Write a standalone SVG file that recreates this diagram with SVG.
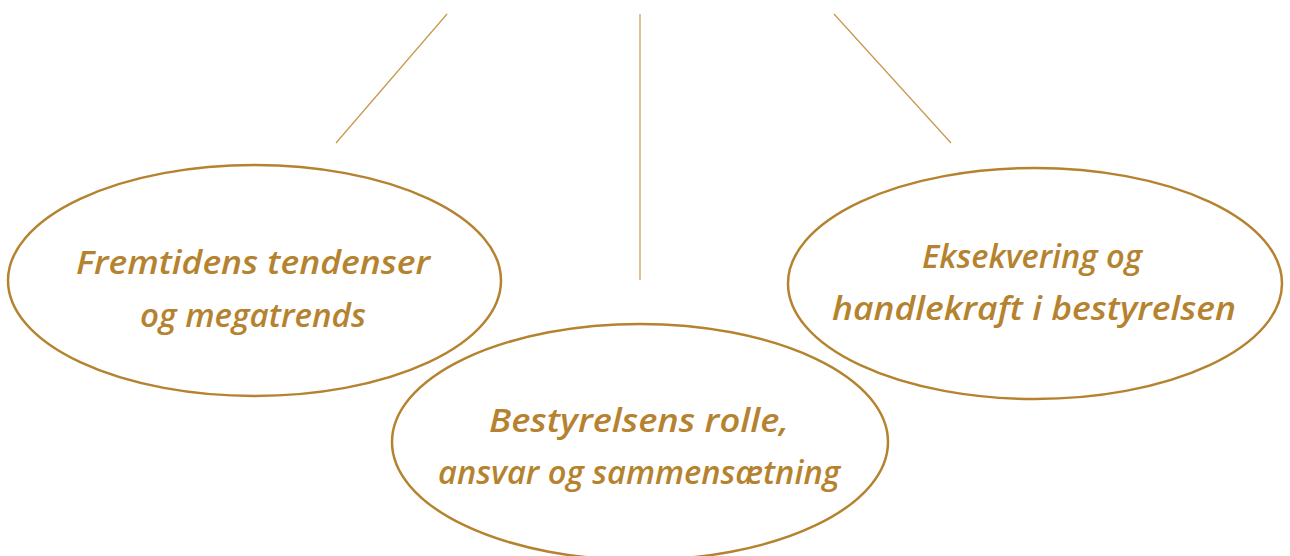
<svg xmlns="http://www.w3.org/2000/svg" width="1290" height="556" viewBox="0 0 1290 556">
<style>
.node{fill:none;stroke:#B5832F;stroke-width:2.5}
.conn{stroke:#C8964A;stroke-width:1.2;fill:none}
.lbl{font-family:"Open Sans","Liberation Sans",sans-serif;font-style:italic;font-weight:600;font-size:33px;fill:#B5832F;text-anchor:middle}
</style>
<rect width="1290" height="556" fill="#FFFFFF"/>
<g id="connectors">
<line class="conn" x1="447" y1="14" x2="336" y2="143"/>
<line class="conn" x1="640" y1="14" x2="640" y2="280"/>
<line class="conn" x1="834" y1="14" x2="951" y2="143"/>
</g>
<g id="node-fremtidens">
<ellipse class="node" cx="254.5" cy="280.5" rx="246.5" ry="115.5"/>
<text class="lbl" x="253" y="274" textLength="354" lengthAdjust="spacingAndGlyphs">Fremtidens tendenser</text>
<text class="lbl" x="253" y="327" textLength="226" lengthAdjust="spacingAndGlyphs">og megatrends</text>
</g>
<g id="node-bestyrelsens">
<ellipse class="node" cx="640" cy="442" rx="248" ry="118"/>
<text class="lbl" x="639" y="432" textLength="300" lengthAdjust="spacingAndGlyphs">Bestyrelsens rolle,</text>
<text class="lbl" x="639" y="484" textLength="402" lengthAdjust="spacingAndGlyphs">ansvar og sammensætning</text>
</g>
<g id="node-eksekvering">
<ellipse class="node" cx="1035" cy="283.5" rx="247" ry="115.5"/>
<text class="lbl" x="1032" y="268" textLength="220" lengthAdjust="spacingAndGlyphs">Eksekvering og</text>
<text class="lbl" x="1034" y="320" textLength="404" lengthAdjust="spacingAndGlyphs">handlekraft i bestyrelsen</text>
</g>
</svg>
